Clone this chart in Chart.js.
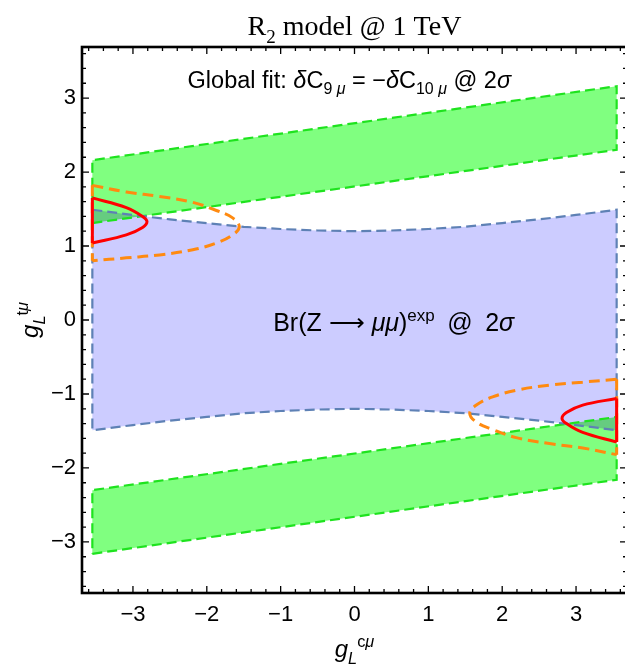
<!DOCTYPE html>
<html>
<head>
<meta charset="utf-8">
<script src="https://cdn.jsdelivr.net/npm/chart.js@4.4.1/dist/chart.umd.min.js"></script>
<style>
  html, body { margin: 0; padding: 0; background: #fff; overflow: hidden; }
  #wrap { position: relative; width: 632px; height: 670px; }
</style>
</head>
<body>
<div id="wrap"><canvas id="chart" width="632" height="670"></canvas></div>
<script>
// axis ticks
const xTicks = [-3, -2, -1, 0, 1, 2, 3];
const yTicks = [-3, -2, -1, 0, 1, 2, 3];

// global fit bands (green)
const fitUpperX = [-3.55, 3.55, 3.55, -3.55, -3.55];
const fitUpperY = [1.31, 2.30, 3.16, 2.16, 1.31];
const fitLowerX = [-3.55, 3.55, 3.55, -3.55, -3.55];
const fitLowerY = [-3.16, -2.16, -1.31, -2.30, -3.16];

// Br(Z -> mu mu) band (blue), upper and lower edge
const zmmX = [-3.55, -3, -2.5, -2, -1.5, -1, -0.5, 0, 0.5, 1, 1.5, 2, 2.5, 3, 3.55];
const zmmUpper = [1.49, 1.42, 1.36, 1.31, 1.26, 1.23, 1.21, 1.20, 1.21, 1.23, 1.26, 1.31, 1.36, 1.42, 1.49];
const zmmLower = [-1.49, -1.42, -1.36, -1.31, -1.26, -1.23, -1.21, -1.20, -1.21, -1.23, -1.26, -1.31, -1.36, -1.42, -1.49];

// orange contours
const orangeLeftX = [-3.55, -3.09, -2.64, -2.19, -1.87, -1.65, -1.56, -1.65, -1.87, -2.19, -2.64, -3.09, -3.55];
const orangeLeftY = [1.82, 1.73, 1.67, 1.59, 1.48, 1.38, 1.26, 1.15, 1.04, 0.95, 0.88, 0.84, 0.80];
const orangeRightX = [3.55, 3.09, 2.64, 2.19, 1.87, 1.65, 1.56, 1.65, 1.87, 2.19, 2.64, 3.09, 3.55];
const orangeRightY = [-0.80, -0.84, -0.88, -0.95, -1.04, -1.15, -1.26, -1.38, -1.48, -1.59, -1.67, -1.73, -1.82];

// red contours
const redLeftX = [-3.55, -3.09, -2.87, -2.81, -2.87, -3.09, -3.55];
const redLeftY = [1.65, 1.52, 1.40, 1.33, 1.25, 1.15, 1.04];
const redRightX = [3.55, 3.09, 2.87, 2.81, 2.87, 3.09, 3.55];
const redRightY = [-1.06, -1.15, -1.25, -1.33, -1.40, -1.52, -1.65];

const GREEN = "#1ee31e";
const GREEN_FILL = "#80ff80";
const BLUE = "#5e81b5";
const BLUE_FILL = "#ccccff";
const ORANGE = "#ff8a10";
const RED = "#ff0000";
const SANS = "'Liberation Sans', Arial, sans-serif";
const SERIF = "'Liberation Serif', 'Times New Roman', serif";

function pts(xs, ys) {
  return xs.map((x, i) => ({ x: x, y: ys[i] }));
}

function edge(xs, ys) {
  // closing vertical edge of a contour at the plot border
  return [{ x: xs[0], y: ys[0] }, { x: xs[xs.length - 1], y: ys[ys.length - 1] }];
}

function curve(data, color, width, dash, tension) {
  return {
    data: data,
    showLine: true,
    fill: false,
    borderColor: color,
    borderWidth: width,
    borderDash: dash,
    pointRadius: 0,
    tension: tension,
  };
}

function region(data, color, fillColor) {
  return {
    data: data,
    showLine: true,
    fill: "shape",
    backgroundColor: fillColor,
    borderColor: color,
    borderWidth: 2.2,
    borderDash: [10, 5],
    pointRadius: 0,
    tension: 0,
  };
}

let zmmData = pts(zmmX, zmmUpper)
  .concat(pts(zmmX, zmmLower).reverse());
zmmData.push(zmmData[0]);

// text with sub/superscripts: [text, kind] kind: n, i, b (sub), bi, p (sup), pi
function drawRuns(ctx, runs, x, y, size, family, align) {
  function fontFor(kind) {
    let s = size;
    if (kind[0] === "b" || kind[0] === "p") s = size * 0.68;
    let italic = kind.indexOf("i") >= 0 ? "italic " : "";
    return italic + s + "px " + family;
  }
  function shift(kind) {
    if (kind[0] === "b") return size * 0.28;
    if (kind[0] === "p") return -size * 0.42;
    return 0;
  }
  let total = 0;
  runs.forEach(r => { ctx.font = fontFor(r[1]); total += ctx.measureText(r[0]).width; });
  let cx = align === "center" ? x - total / 2 : x;
  ctx.textAlign = "left";
  ctx.textBaseline = "alphabetic";
  runs.forEach(r => {
    ctx.font = fontFor(r[1]);
    ctx.fillText(r[0], cx, y + shift(r[1]));
    cx += ctx.measureText(r[0]).width;
  });
}

const framePlugin = {
  id: "frame",
  beforeDraw(chart) {
    // overlapping bands darken each other
    chart.ctx.globalCompositeOperation = "multiply";
  },
  beforeDatasetsDraw(chart) {
    chart.ctx.globalCompositeOperation = "source-over";
  },
  afterDraw(chart) {
    const ctx = chart.ctx;
    const { left, right, top, bottom } = chart.chartArea;
    const xs = chart.scales.x;
    const ys = chart.scales.y;
    ctx.save();
    ctx.strokeStyle = "#000";
    ctx.lineWidth = 1.3;
    for (let k = -18; k <= 18; k++) {
      const major = k % 5 === 0;
      const len = major ? 7 : 4;
      const px = xs.getPixelForValue(k / 5);
      const py = ys.getPixelForValue(k / 5);
      ctx.beginPath();
      ctx.moveTo(px, bottom); ctx.lineTo(px, bottom - len);
      ctx.moveTo(px, top); ctx.lineTo(px, top + len);
      ctx.moveTo(left, py); ctx.lineTo(left + len, py);
      ctx.moveTo(right, py); ctx.lineTo(right - len, py);
      ctx.stroke();
    }
    ctx.lineWidth = 2.6;
    ctx.strokeRect(left, top, right - left, bottom - top);

    ctx.fillStyle = "#000";
    drawRuns(ctx, [["R", "n"], ["2", "b"], [" model @ 1 TeV", "n"]],
      (left + right) / 2, 35, 28, SERIF, "center");

    drawRuns(ctx, [["Global fit: ", "n"], ["\u03b4", "i"], ["C", "n"], ["9 ", "b"], ["\u03bc", "bi"],
      [" = \u2212", "n"], ["\u03b4", "i"], ["C", "n"], ["10 ", "b"], ["\u03bc", "bi"], [" @ 2", "n"], ["\u03c3", "i"]],
      xs.getPixelForValue(-0.07), ys.getPixelForValue(3.14), 23.5, SANS, "center");

    drawRuns(ctx, [["Br(Z ", "n"], ["\u27f6", "n"], [" ", "n"], ["\u03bc\u03bc", "i"], [")", "n"],
      ["exp", "p"], ["\u2002@\u20022", "n"], ["\u03c3", "i"]],
      xs.getPixelForValue(0.53), ys.getPixelForValue(-0.15), 25, SANS, "center");

    drawRuns(ctx, [["g", "i"], ["L", "bi"], ["c", "p"], ["\u03bc", "pi"]],
      (left + right) / 2, 657, 24, SANS, "center");

    ctx.save();
    ctx.translate(38, (top + bottom) / 2);
    ctx.rotate(-Math.PI / 2);
    drawRuns(ctx, [["g", "i"], ["L", "bi"], ["t", "p"], ["\u03bc", "pi"]], 0, 0, 24, SANS, "center");
    ctx.restore();
    ctx.restore();
  },
};

new Chart(document.getElementById("chart"), {
  type: "scatter",
  data: {
    datasets: [
      curve(pts(redLeftX, redLeftY), RED, 3, [], 0.4),
      curve(pts(redRightX, redRightY), RED, 3, [], 0.4),
      curve(edge(redLeftX, redLeftY), RED, 3, [], 0),
      curve(edge(redRightX, redRightY), RED, 3, [], 0),
      curve(pts(orangeLeftX, orangeLeftY), ORANGE, 3, [11, 6], 0.4),
      curve(pts(orangeRightX, orangeRightY), ORANGE, 3, [11, 6], 0.4),
      curve(edge(orangeLeftX, orangeLeftY), ORANGE, 3, [11, 6], 0),
      curve(edge(orangeRightX, orangeRightY), ORANGE, 3, [11, 6], 0),
      region(zmmData, BLUE, BLUE_FILL),
      region(pts(fitUpperX, fitUpperY), GREEN, GREEN_FILL),
      region(pts(fitLowerX, fitLowerY), GREEN, GREEN_FILL),
    ],
  },
  options: {
    responsive: false,
    devicePixelRatio: 1,
    animation: false,
    layout: { padding: { top: 47, right: 5, left: 0, bottom: 0 } },
    plugins: {
      legend: { display: false },
      tooltip: { enabled: false },
      filler: { drawTime: "beforeDatasetsDraw" },
    },
    scales: {
      x: {
        type: "linear",
        min: -3.69,
        max: 3.69,
        afterBuildTicks: (s) => { s.ticks = xTicks.map(v => ({ value: v })); },
        afterFit: (s) => { s.height = 77; },
        ticks: {
          color: "#000",
          padding: 9,
          font: { family: SANS, size: 22 },
          callback: (v) => String(v).replace("-", "\u2212"),
        },
        grid: { display: false, drawTicks: false },
        border: { display: false },
      },
      y: {
        type: "linear",
        min: -3.69,
        max: 3.69,
        afterBuildTicks: (s) => { s.ticks = yTicks.map(v => ({ value: v })); },
        afterFit: (s) => { s.width = 82; },
        ticks: {
          color: "#000",
          padding: 6,
          font: { family: SANS, size: 22 },
          callback: (v) => String(v).replace("-", "\u2212"),
        },
        grid: { display: false, drawTicks: false },
        border: { display: false },
      },
    },
  },
  plugins: [framePlugin],
});
</script>
</body>
</html>
